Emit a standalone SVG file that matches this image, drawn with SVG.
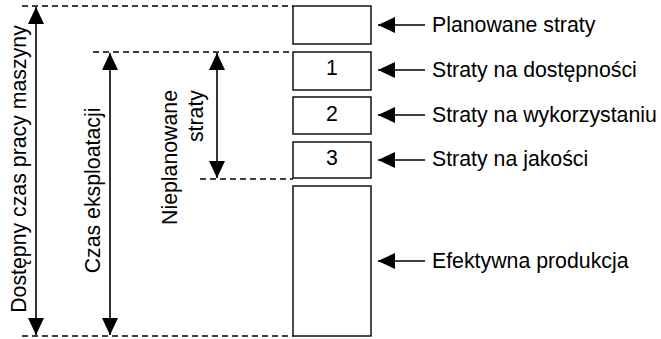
<svg xmlns="http://www.w3.org/2000/svg" width="661" height="339" viewBox="0 0 661 339">
<defs>
<style>
.box{fill:#fff;stroke:#000;stroke-width:1.4}
.dash{stroke:#000;stroke-width:1.4;stroke-dasharray:6 4;fill:none}
.ln{stroke:#000;stroke-width:1.6;fill:none}
.t{font-family:"Liberation Sans",Arial,sans-serif;font-size:21.3px;fill:#000}
.n{font-family:"Liberation Sans",Arial,sans-serif;font-size:21.3px;fill:#000;text-anchor:middle}
</style>
<marker id="ah" viewBox="0 0 17 16" refX="17" refY="8" markerWidth="17" markerHeight="16" markerUnits="userSpaceOnUse" orient="auto-start-reverse">
<path d="M0,0 L17,8 L0,16 Z" fill="#000"/>
</marker>
</defs>
<rect width="661" height="339" fill="#fff"/>
<g id="guides">
<line class="dash" x1="22" y1="6" x2="293" y2="6"/>
<line class="dash" x1="93" y1="52" x2="293" y2="52"/>
<line class="dash" x1="200" y1="179" x2="293" y2="179"/>
<line class="dash" x1="22" y1="336" x2="293" y2="336"/>
</g>
<g id="box-planned"><rect class="box" x="293" y="6" width="78" height="38"/></g>
<g id="box-1"><rect class="box" x="293" y="52" width="78" height="38"/><text class="n" x="332" y="75">1</text></g>
<g id="box-2"><rect class="box" x="293" y="97" width="78" height="37"/><text class="n" x="332" y="120.5">2</text></g>
<g id="box-3"><rect class="box" x="293" y="142" width="78" height="36"/><text class="n" x="332" y="165">3</text></g>
<g id="box-effective"><rect class="box" x="293" y="186" width="78" height="150"/></g>
<g id="connectors">
<line class="ln" x1="36" y1="7" x2="36" y2="335" marker-start="url(#ah)" marker-end="url(#ah)"/>
<line class="ln" x1="110" y1="53" x2="110" y2="335" marker-start="url(#ah)" marker-end="url(#ah)"/>
<line class="ln" x1="217" y1="53" x2="217" y2="178" marker-start="url(#ah)" marker-end="url(#ah)"/>
<line class="ln" x1="425" y1="25" x2="378" y2="25" marker-end="url(#ah)"/>
<line class="ln" x1="425" y1="70" x2="378" y2="70" marker-end="url(#ah)"/>
<line class="ln" x1="425" y1="115" x2="378" y2="115" marker-end="url(#ah)"/>
<line class="ln" x1="425" y1="160" x2="378" y2="160" marker-end="url(#ah)"/>
<line class="ln" x1="425" y1="261" x2="378" y2="261" marker-end="url(#ah)"/>
</g>
<g id="labels-right">
<text class="t" x="432" y="31.5">Planowane straty</text>
<text class="t" x="432" y="76.5">Straty na dostępności</text>
<text class="t" x="432" y="121.5">Straty na wykorzystaniu</text>
<text class="t" x="432" y="166">Straty na jakości</text>
<text class="t" x="432" y="267.5">Efektywna produkcja</text>
</g>
<g id="labels-left">
<text class="t" transform="translate(25.5,169) rotate(-90)" text-anchor="middle">Dostępny czas pracy maszyny</text>
<text class="t" transform="translate(99.5,190.5) rotate(-90)" text-anchor="middle">Czas eksploatacji</text>
<text class="t" transform="translate(177,90) rotate(-90)" text-anchor="end">Nieplanowane</text>
<text class="t" transform="translate(203,90) rotate(-90)" text-anchor="end">straty</text>
</g>
</svg>
